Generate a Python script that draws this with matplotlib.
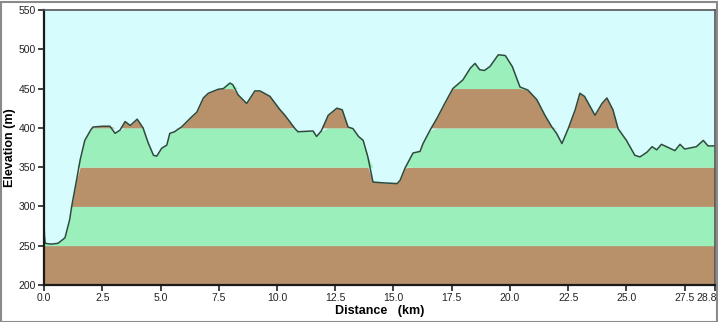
import numpy as np
import matplotlib
matplotlib.use("Agg")
import matplotlib.pyplot as plt
from matplotlib.patches import Rectangle
from matplotlib.transforms import ScaledTranslation

distance_km = [0.0, 0.02, 0.05, 0.3, 0.6, 0.9, 1.1, 1.2, 1.4, 1.55, 1.75, 2.0, 2.1, 2.5, 2.83,
               3.05, 3.26, 3.48, 3.7, 4.0, 4.25, 4.47, 4.7, 4.84, 5.05, 5.27, 5.4, 5.6, 5.9,
               6.27, 6.56, 6.84, 7.05, 7.47, 7.7, 7.98, 8.1, 8.33, 8.7, 9.05, 9.27, 9.7,
               10.13, 10.34, 10.77, 10.9, 11.55, 11.7, 11.9, 12.2, 12.57, 12.8, 13.05, 13.26,
               13.5, 13.7, 13.9, 14.12, 14.55, 15.15, 15.28, 15.5, 15.84, 16.14, 16.27, 16.57,
               16.9, 17.2, 17.55, 17.98, 18.3, 18.5, 18.7, 18.9, 19.14, 19.5, 19.8, 20.1,
               20.43, 20.77, 21.15, 21.5, 21.8, 22.0, 22.23, 22.5, 22.8, 23.0, 23.2, 23.65,
               23.95, 24.16, 24.42, 24.64, 25.0, 25.36, 25.58, 25.88, 26.1, 26.3, 26.5,
               27.08, 27.3, 27.5, 28.0, 28.3, 28.5, 28.8]
elevation_m = [279, 262, 253, 252, 253, 260, 283, 302, 334, 359, 384, 397, 401, 402, 402,
               393, 397, 408, 403, 411, 400, 381, 365, 364, 374, 378, 393, 395, 401,
               412, 420, 438, 444, 449, 450, 457, 455, 442, 431, 447, 447, 440,
               423, 416, 399, 395, 396, 389, 396, 416, 425, 423, 401, 399,
               389, 384, 363, 331, 330, 329, 333, 349, 368, 370, 380, 397,
               414, 431, 450, 461, 476, 482, 474, 473, 478, 493, 492, 478,
               452, 448, 436, 416, 401, 393, 380, 399, 423, 444, 440, 416,
               431, 438, 423, 399, 384, 365, 363, 369, 376, 372, 379,
               371, 379, 373, 376, 384, 377, 377]

band_edges = [200, 250, 300, 350, 400, 450, 500, 550]
x_ticks = [0.0, 2.5, 5.0, 7.5, 10.0, 12.5, 15.0, 17.5, 20.0, 22.5, 25.0, 27.5, 28.8]
x_tick_labels = ["0.0", "2.5", "5.0", "7.5", "10.0", "12.5", "15.0", "17.5", "20.0",
                 "22.5", "25.0", "27.5", "28.8"]
y_ticks = [200, 250, 300, 350, 400, 450, 500, 550]

brown = "#B8906A"
green = "#9AEFBA"
sky = "#D6FCFE"

plt.rcParams['font.family'] = ['Liberation Sans', 'DejaVu Sans']

fig = plt.figure(figsize=(7.18, 3.22), dpi=100)
fig.patch.set_facecolor("white")
fig.patches.append(Rectangle((0.002, 0.0), 0.996, 0.995, transform=fig.transFigure,
                             fill=False, edgecolor="#8A8A8A", linewidth=1.5))
ax = fig.add_axes([0.0613, 0.115, 0.9345, 0.854])
ax.set_facecolor(sky)

x = np.array(distance_km)
y = np.array(elevation_m, dtype=float)
for i in range(len(band_edges) - 1):
    lo, hi = band_edges[i], band_edges[i + 1]
    col = brown if i % 2 == 0 else green
    ax.fill_between(x, lo, np.clip(y, lo, hi), color=col, linewidth=0)
ax.plot(x, y, color="#2E4A3C", linewidth=1.1)

ax.set_xlim(0, 28.8)
ax.set_ylim(200, 550)
ax.set_xticks(x_ticks)
ax.set_xticklabels(x_tick_labels)
ax.set_yticks(y_ticks)
ax.tick_params(axis='both', labelsize=7.5, colors="#222222", length=4, width=1.2, direction='out', pad=2)
last = ax.get_xticklabels()[-1]
last.set_transform(last.get_transform() + ScaledTranslation(-8 / 100, 0, fig.dpi_scale_trans))

for s in ["left", "bottom"]:
    ax.spines[s].set_color("#1A1A1A")
    ax.spines[s].set_linewidth(1.6)
for s in ["top", "right"]:
    ax.spines[s].set_color("#555555")
    ax.spines[s].set_linewidth(1.2)

ax.set_xlabel("Distance   (km)", fontsize=9, fontweight="bold", labelpad=1)
ax.set_ylabel("Elevation (m)", fontsize=9, fontweight="bold")
ax.yaxis.set_label_coords(-0.042, 0.5)

fig.savefig("out.png", dpi=100)
